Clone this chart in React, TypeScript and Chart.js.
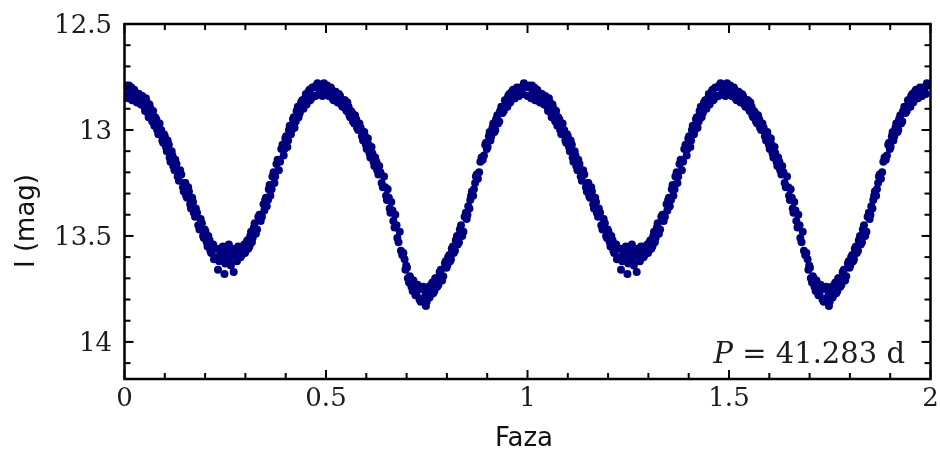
import React, { useEffect, useRef } from 'react';
import { Chart, registerables } from 'chart.js';

Chart.register(...registerables);

// Phase-folded I-band light curve (one cycle; plotted at phase and phase+1)
// observing set A
const phasesA = [
  0.002, 0.006, 0.011, 0.015, 0.019, 0.024, 0.028, 0.033, 0.038, 0.044,
  0.049, 0.053, 0.058, 0.062, 0.067, 0.071, 0.076, 0.081, 0.087, 0.094,
  0.098, 0.103, 0.107, 0.112, 0.117, 0.121, 0.126, 0.132, 0.138, 0.145,
  0.149, 0.153, 0.158, 0.163, 0.168, 0.172, 0.177, 0.183, 0.189, 0.195,
  0.199, 0.204, 0.208, 0.213, 0.218, 0.222, 0.227, 0.232, 0.238, 0.244,
  0.248, 0.252, 0.257, 0.261, 0.266, 0.271, 0.276, 0.282, 0.288, 0.295,
  0.299, 0.303, 0.307, 0.312, 0.316, 0.321, 0.326, 0.332, 0.338, 0.345,
  0.349, 0.353, 0.358, 0.362, 0.367, 0.372, 0.377, 0.383, 0.389, 0.395,
  0.399, 0.404, 0.408, 0.413, 0.418, 0.422, 0.427, 0.432, 0.438, 0.444,
  0.448, 0.452, 0.457, 0.461, 0.466, 0.471, 0.476, 0.482, 0.488, 0.495,
  0.499, 0.503, 0.507, 0.512, 0.516, 0.521, 0.526, 0.532, 0.538, 0.545,
  0.549, 0.553, 0.558, 0.562, 0.567, 0.572, 0.577, 0.583, 0.589, 0.595,
  0.599, 0.604, 0.608, 0.613, 0.618, 0.622, 0.627, 0.632, 0.638, 0.644,
  0.649, 0.653, 0.658, 0.662, 0.667, 0.672, 0.677, 0.683, 0.689, 0.695,
  0.699, 0.703, 0.708, 0.712, 0.717, 0.722, 0.727, 0.732, 0.738, 0.744,
  0.748, 0.752, 0.757, 0.761, 0.766, 0.771, 0.776, 0.782, 0.788, 0.795,
  0.799, 0.803, 0.808, 0.812, 0.817, 0.822, 0.827, 0.832, 0.838, 0.844,
  0.849, 0.853, 0.858, 0.862, 0.867, 0.872, 0.877, 0.883, 0.889, 0.895,
  0.899, 0.904, 0.908, 0.913, 0.918, 0.922, 0.927, 0.932, 0.938, 0.944,
  0.948, 0.952, 0.957, 0.961, 0.966, 0.971, 0.976, 0.982, 0.988, 0.995,
];

const magsA = [
  12.80, 12.84, 12.79, 12.83, 12.86, 12.81, 12.85, 12.83, 12.87, 12.84,
  12.89, 12.85, 12.92, 12.88, 12.95, 12.91, 12.94, 13.00, 12.97, 13.05,
  13.02, 13.08, 13.05, 13.13, 13.10, 13.17, 13.14, 13.22, 13.19, 13.27,
  13.25, 13.31, 13.27, 13.35, 13.32, 13.39, 13.37, 13.45, 13.42, 13.50,
  13.47, 13.53, 13.50, 13.57, 13.54, 13.61, 13.56, 13.66, 13.59, 13.55,
  13.68, 13.60, 13.56, 13.62, 13.57, 13.67, 13.59, 13.55, 13.60, 13.57,
  13.58, 13.53, 13.56, 13.50, 13.53, 13.46, 13.49, 13.41, 13.43, 13.35,
  13.33, 13.36, 13.28, 13.31, 13.22, 13.25, 13.16, 13.19, 13.09, 13.12,
  13.04, 13.08, 13.00, 13.02, 12.95, 12.99, 12.91, 12.94, 12.87, 12.90,
  12.85, 12.88, 12.82, 12.86, 12.80, 12.84, 12.79, 12.83, 12.80, 12.78,
  12.82, 12.79, 12.84, 12.80, 12.85, 12.82, 12.86, 12.83, 12.88, 12.86,
  12.90, 12.87, 12.93, 12.91, 12.96, 12.93, 12.99, 12.97, 13.03, 13.01,
  13.07, 13.04, 13.11, 13.08, 13.15, 13.13, 13.19, 13.17, 13.25, 13.22,
  13.31, 13.28, 13.37, 13.34, 13.43, 13.40, 13.51, 13.48, 13.59, 13.61,
  13.64, 13.70, 13.69, 13.74, 13.71, 13.78, 13.73, 13.80, 13.75, 13.79,
  13.83, 13.76, 13.79, 13.73, 13.77, 13.70, 13.74, 13.67, 13.71, 13.63,
  13.65, 13.60, 13.62, 13.56, 13.58, 13.52, 13.54, 13.47, 13.50, 13.41,
  13.42, 13.36, 13.33, 13.29, 13.28, 13.22, 13.23, 13.15, 13.14, 13.07,
  13.09, 13.03, 13.05, 12.99, 13.01, 12.95, 12.97, 12.91, 12.92, 12.86,
  12.89, 12.84, 12.87, 12.82, 12.85, 12.81, 12.84, 12.80, 12.83, 12.79,
];

// observing set B
const phasesB = [
  0.000, 0.004, 0.009, 0.013, 0.017, 0.022, 0.026, 0.031, 0.036, 0.041,
  0.046, 0.051, 0.056, 0.060, 0.065, 0.069, 0.074, 0.079, 0.084, 0.091,
  0.096, 0.100, 0.105, 0.110, 0.114, 0.119, 0.124, 0.129, 0.135, 0.141,
  0.147, 0.151, 0.155, 0.160, 0.165, 0.170, 0.175, 0.180, 0.186, 0.192,
  0.197, 0.201, 0.206, 0.211, 0.215, 0.220, 0.225, 0.230, 0.235, 0.241,
  0.246, 0.250, 0.255, 0.259, 0.264, 0.268, 0.273, 0.279, 0.285, 0.291,
  0.297, 0.301, 0.305, 0.310, 0.314, 0.318, 0.323, 0.329, 0.335, 0.341,
  0.347, 0.351, 0.356, 0.360, 0.365, 0.370, 0.374, 0.380, 0.386, 0.392,
  0.397, 0.401, 0.406, 0.410, 0.415, 0.420, 0.425, 0.430, 0.435, 0.441,
  0.446, 0.450, 0.455, 0.459, 0.464, 0.469, 0.474, 0.479, 0.485, 0.491,
  0.497, 0.501, 0.505, 0.510, 0.514, 0.519, 0.524, 0.529, 0.535, 0.541,
  0.547, 0.551, 0.556, 0.560, 0.565, 0.570, 0.575, 0.580, 0.586, 0.592,
  0.597, 0.601, 0.606, 0.610, 0.615, 0.620, 0.625, 0.630, 0.635, 0.641,
  0.647, 0.651, 0.656, 0.660, 0.665, 0.670, 0.675, 0.680, 0.686, 0.692,
  0.697, 0.701, 0.706, 0.710, 0.715, 0.720, 0.725, 0.730, 0.735, 0.741,
  0.746, 0.750, 0.755, 0.759, 0.764, 0.769, 0.774, 0.779, 0.785, 0.791,
  0.797, 0.801, 0.806, 0.810, 0.815, 0.820, 0.825, 0.830, 0.835, 0.841,
  0.847, 0.851, 0.856, 0.860, 0.865, 0.870, 0.874, 0.880, 0.886, 0.892,
  0.897, 0.901, 0.906, 0.910, 0.915, 0.920, 0.925, 0.930, 0.935, 0.941,
  0.946, 0.950, 0.955, 0.959, 0.964, 0.969, 0.974, 0.979, 0.985, 0.991,
];

const magsB = [
  12.84, 12.79, 12.85, 12.81, 12.80, 12.86, 12.82, 12.87, 12.83, 12.88,
  12.85, 12.91, 12.87, 12.94, 12.90, 12.96, 12.98, 12.95, 13.02, 13.00,
  13.06, 13.03, 13.10, 13.07, 13.15, 13.12, 13.19, 13.16, 13.24, 13.21,
  13.29, 13.25, 13.32, 13.29, 13.37, 13.34, 13.41, 13.39, 13.47, 13.44,
  13.51, 13.48, 13.55, 13.52, 13.58, 13.54, 13.60, 13.56, 13.62, 13.57,
  13.56, 13.63, 13.58, 13.54, 13.64, 13.59, 13.56, 13.62, 13.57, 13.59,
  13.54, 13.57, 13.52, 13.55, 13.48, 13.51, 13.44, 13.47, 13.40, 13.41,
  13.38, 13.32, 13.33, 13.26, 13.28, 13.20, 13.22, 13.14, 13.15, 13.07,
  13.09, 13.03, 13.05, 12.98, 13.00, 12.94, 12.96, 12.89, 12.92, 12.86,
  12.88, 12.83, 12.86, 12.81, 12.85, 12.80, 12.84, 12.78, 12.82, 12.84,
  12.79, 12.83, 12.80, 12.84, 12.81, 12.86, 12.82, 12.87, 12.84, 12.89,
  12.86, 12.91, 12.89, 12.94, 12.92, 12.97, 12.95, 13.00, 12.99, 13.05,
  13.03, 13.09, 13.07, 13.13, 13.11, 13.17, 13.15, 13.21, 13.20, 13.27,
  13.27, 13.33, 13.32, 13.39, 13.38, 13.46, 13.45, 13.53, 13.57, 13.58,
  13.66, 13.65, 13.72, 13.70, 13.76, 13.73, 13.78, 13.75, 13.81, 13.74,
  13.76, 13.81, 13.74, 13.78, 13.72, 13.76, 13.70, 13.73, 13.66, 13.69,
  13.62, 13.64, 13.59, 13.61, 13.55, 13.57, 13.50, 13.53, 13.45, 13.48,
  13.39, 13.40, 13.37, 13.31, 13.31, 13.25, 13.21, 13.20, 13.13, 13.12,
  13.06, 13.08, 13.01, 13.03, 12.97, 13.00, 12.93, 12.96, 12.89, 12.91,
  12.86, 12.89, 12.83, 12.86, 12.81, 12.85, 12.80, 12.84, 12.82, 12.78,
];

const xTickValues = [0, 0.5, 1, 1.5, 2];
const xTickLabels = ['0', '0.5', '1', '1.5', '2'];
const yTickValues = [12.5, 13, 13.5, 14];
const yTickLabels = ['12.5', '13', '13.5', '14'];
const xTitle = 'Faza';
const yTitle = 'I (mag)';
const periodSymbol = 'P';
const periodText = ' = 41.283 d';

const X_MIN = 0;
const X_MAX = 2;
const Y_MIN = 12.5;
const Y_MAX = 14.175;

const POINT_COLOR = '#00007f';
const TICK_FONT = { family: 'DejaVu Serif', size: 26 };
const TEXT_COLOR = '#1c1c1c';

const framePlugin = {
  id: 'frameTicks',
  afterDatasetsDraw(chart: any) {
    const { ctx, chartArea: a, scales } = chart;
    const x = scales.x;
    const y = scales.y;
    ctx.save();
    ctx.strokeStyle = '#000';
    ctx.lineWidth = 2;
    const line = (x1: number, y1: number, x2: number, y2: number) => {
      ctx.beginPath();
      ctx.moveTo(x1, y1);
      ctx.lineTo(x2, y2);
      ctx.stroke();
    };
    for (let i = 0; i <= 20; i++) {
      const v = X_MIN + i * 0.1;
      const px = x.getPixelForValue(v);
      const len = i % 5 === 0 ? 9 : 6;
      line(px, a.bottom, px, a.bottom - len);
      line(px, a.top, px, a.top + len);
    }
    for (let i = 0; i <= 16; i++) {
      const v = Y_MIN + i * 0.1;
      if (v > Y_MAX) break;
      const py = y.getPixelForValue(v);
      const len = i % 5 === 0 ? 9 : 6;
      line(a.left, py, a.left + len, py);
      line(a.right, py, a.right - len, py);
    }
    ctx.lineWidth = 2.5;
    ctx.strokeRect(a.left, a.top, a.right - a.left, a.bottom - a.top);

    // axis titles
    ctx.fillStyle = '#111';
    ctx.font = '26px "DejaVu Sans"';
    ctx.textAlign = 'center';
    ctx.textBaseline = 'alphabetic';
    ctx.fillText(xTitle, 524, 446);

    ctx.save();
    ctx.translate(34, 221);
    ctx.rotate(-Math.PI / 2);
    ctx.fillText(yTitle, 0, 0);
    ctx.restore();

    // period annotation
    ctx.fillStyle = TEXT_COLOR;
    ctx.textAlign = 'left';
    ctx.font = '29px "DejaVu Serif"';
    const restW = ctx.measureText(periodText).width;
    ctx.font = 'italic 29px "DejaVu Serif"';
    const pW = ctx.measureText(periodSymbol).width;
    const right = 905;
    const startX = right - restW - pW;
    ctx.fillText(periodSymbol, startX, 363);
    ctx.font = '29px "DejaVu Serif"';
    ctx.fillText(periodText, startX + pW, 363);
    ctx.restore();
  },
};

function folded(ph: number[], mg: number[]) {
  const out: { x: number; y: number }[] = [];
  ph.forEach((p, i) => {
    out.push({ x: p, y: mg[i] });
    out.push({ x: p + 1, y: mg[i] });
  });
  return out;
}

export default function App() {
  const canvasRef = useRef<HTMLCanvasElement | null>(null);

  useEffect(() => {
    const canvas = canvasRef.current;
    if (!canvas) return;

    const pointStyle = {
      backgroundColor: POINT_COLOR,
      borderColor: POINT_COLOR,
      borderWidth: 0,
      pointRadius: 4,
      pointHoverRadius: 4,
    };

    const chart = new Chart(canvas, {
      type: 'scatter',
      data: {
        datasets: [
          { data: folded(phasesA, magsA), ...pointStyle },
          { data: folded(phasesB, magsB), ...pointStyle },
        ],
      },
      options: {
        responsive: false,
        animation: false,
        events: [],
        layout: { padding: { top: 24, right: 9.5, bottom: 0, left: 0 } },
        plugins: {
          legend: { display: false },
          tooltip: { enabled: false },
          title: { display: false },
        },
        scales: {
          x: {
            type: 'linear',
            min: X_MIN,
            max: X_MAX,
            grid: { display: false, drawTicks: false },
            border: { display: false },
            afterBuildTicks: (scale: any) => {
              scale.ticks = xTickValues.map((v) => ({ value: v }));
            },
            afterFit: (scale: any) => {
              scale.height = 70;
              scale.paddingLeft = 0;
              scale.paddingRight = 0;
            },
            ticks: {
              autoSkip: false,
              maxRotation: 0,
              padding: 5,
              color: TEXT_COLOR,
              font: TICK_FONT,
              callback: (_v: any, i: number) => xTickLabels[i],
            },
          },
          y: {
            type: 'linear',
            reverse: true,
            min: Y_MIN,
            max: Y_MAX,
            grid: { display: false, drawTicks: false },
            border: { display: false },
            afterBuildTicks: (scale: any) => {
              scale.ticks = yTickValues.map((v) => ({ value: v }));
            },
            afterFit: (scale: any) => {
              scale.width = 124.5;
              scale.paddingTop = 0;
              scale.paddingBottom = 0;
            },
            ticks: {
              autoSkip: false,
              padding: 12.5,
              labelOffset: 2,
              color: TEXT_COLOR,
              font: TICK_FONT,
              callback: (_v: any, i: number) => yTickLabels[i],
            },
          },
        },
      },
      plugins: [framePlugin],
    });
    return () => chart.destroy();
  }, []);

  return (
    <div style={{ position: 'absolute', left: 0, top: 0, width: 940, height: 449, background: '#fff' }}>
      <canvas ref={canvasRef} width={940} height={449} style={{ display: 'block' }} />
    </div>
  );
}
